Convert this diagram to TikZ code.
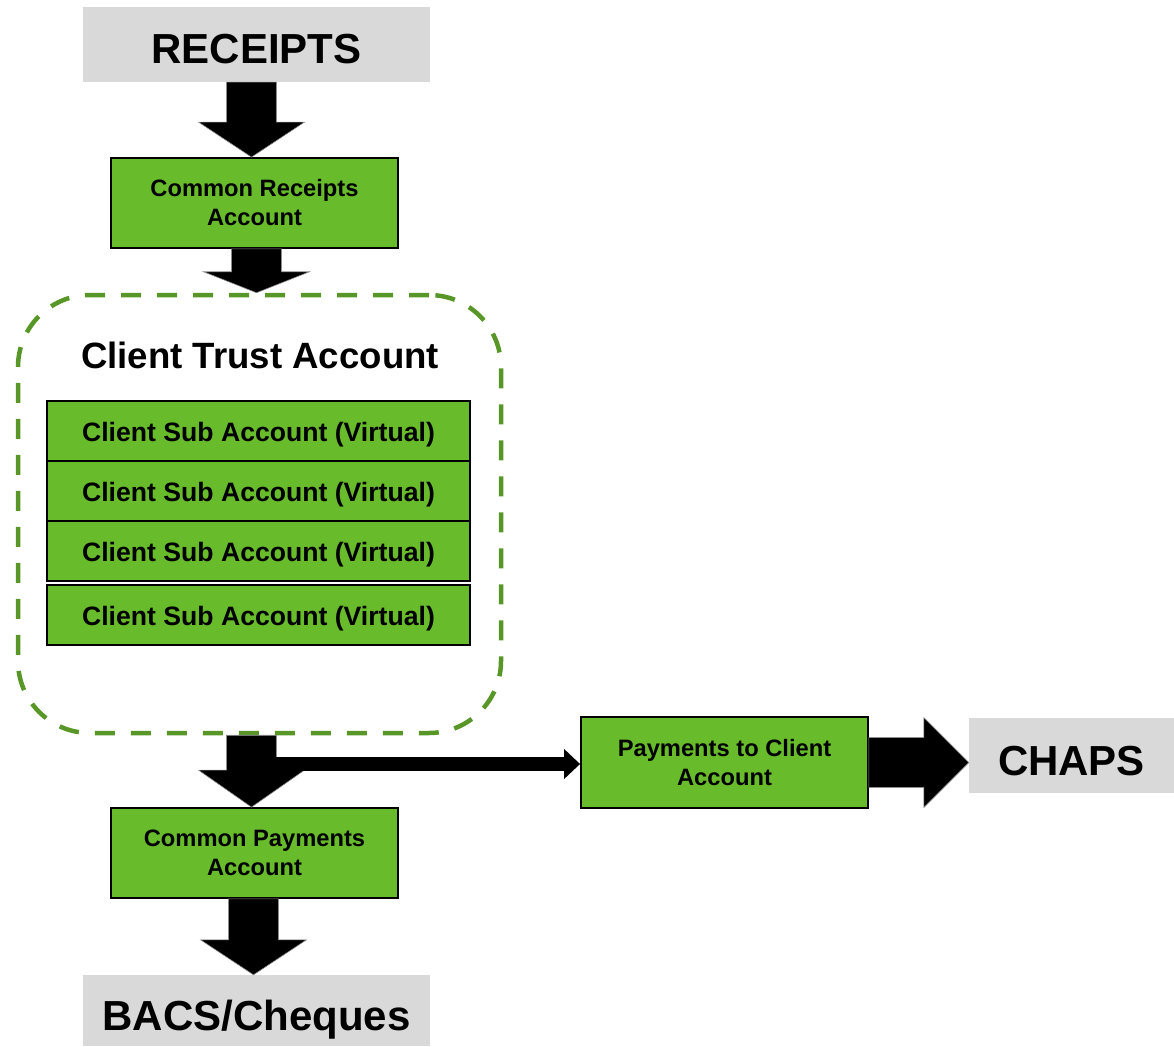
\documentclass[tikz,border=0pt]{standalone}
\usepackage{fontspec}
\setmainfont{Liberation Sans}
\usetikzlibrary{calc,arrows.meta}

\definecolor{boxgreen}{RGB}{104,187,42}
\definecolor{dashgreen}{RGB}{88,150,40}
\definecolor{endgray}{RGB}{217,217,217}

\tikzset{
  greenbox/.style={draw=black, line width=1.8pt, fill=boxgreen, inner sep=0pt,
    align=center, font=\bfseries\fontsize{23.7}{29}\selectfont},
  subbox/.style={greenbox, minimum width=423pt, minimum height=60pt,
    text height=21pt, text depth=0pt,
    font=\bfseries\fontsize{26.6}{30}\selectfont},
  endbox/.style={fill=endgray, inner sep=0pt, text height=39pt, text depth=0pt,
    font=\bfseries\fontsize{42}{48}\selectfont},
  blockarrow/.style={fill=black, draw=black!45, line width=0.6pt},
  trustframe/.style={draw=dashgreen, line width=4.5pt, dash pattern=on 20pt off 16pt,
    rounded corners=72pt, minimum width=483pt, minimum height=438pt},
}

% Fat downward arrow between two points: #1 start, #2 tip, #3 head length
\newcommand\flowdown[3]{%
  \path[blockarrow] let \p1=(#1), \p2=(#2) in
    (\x2-28pt,\y1) -- (\x2+22pt,\y1) -- (\x2+22pt,\y2+#3pt) -- (\x2+50pt,\y2+#3pt)
    -- (\x2-3pt,\y2) -- (\x2-56pt,\y2+#3pt) -- (\x2-28pt,\y2+#3pt) -- cycle;}

\begin{document}
\begin{tikzpicture}[x=1pt,y=-1pt]
  \useasboundingbox (0,0) rectangle (1174,1046);

  % sources and destinations
  \node[endbox, minimum width=347pt, minimum height=75pt] (rec) at (256.5,44.5) {RECEIPTS};
  \node[endbox, minimum width=347pt, minimum height=71pt] (bacs) at (256.5,1010.5) {BACS/Cheques};
  \node[endbox, minimum width=205pt, minimum height=75pt] (chaps) at (1071.5,755.5) {CHAPS};

  % pooled accounts
  \node[greenbox, minimum width=287pt, minimum height=90pt] (cra) at (254.5,203) {Common Receipts\\Account};
  \node[greenbox, minimum width=287pt, minimum height=90pt] (cpa) at (254.5,853) {Common Payments\\Account};
  \node[greenbox, minimum width=287pt, minimum height=91pt] (pca) at (724.5,762.5) {Payments to Client\\Account};

  % client trust account with its virtual sub accounts
  \node[trustframe] (trust) at (259.5,514) {};
  \node[font=\bfseries\fontsize{36.6}{40}\selectfont] (ttl) at (260,355) {Client Trust Account};
  \node[subbox] (s1) at (258.5,431) {Client Sub Account (Virtual)};
  \node[subbox] (s2) at (258.5,491) {Client Sub Account (Virtual)};
  \node[subbox] (s3) at (258.5,551) {Client Sub Account (Virtual)};
  \node[subbox] (s4) at (258.5,615) {Client Sub Account (Virtual)};

  % flows down the left column
  \flowdown{rec.south}{cra.north}{35}
  \flowdown{cra.south}{trust.north}{21}
  \flowdown{trust.south}{cpa.north}{37}
  \flowdown{cpa.south}{bacs.north}{35}

  % branch to client payments
  \coordinate (split) at (276,764);
  \draw[line width=14pt, -{Triangle[width=29pt,length=16pt]}] (split) -- (pca.west |- split);

  % fat arrow to CHAPS
  \path[blockarrow] let \p1=(pca.east), \p2=(chaps.west) in
    (\x1,\y1+25pt) -- (\x2-45pt,\y1+25pt) -- (\x2-45pt,\y1+45pt) -- (\x2,\y1)
    -- (\x2-45pt,\y1-45pt) -- (\x2-45pt,\y1-25pt) -- (\x1,\y1-25pt) -- cycle;
\end{tikzpicture}
\end{document}
